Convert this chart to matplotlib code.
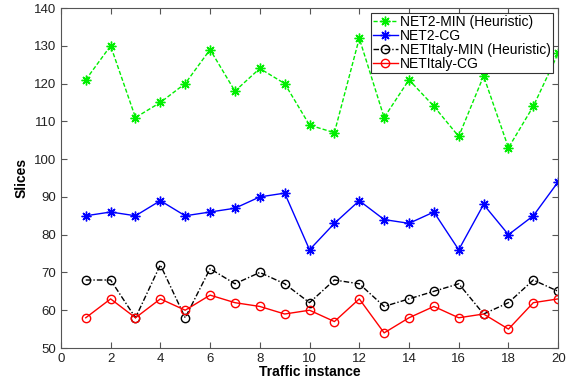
"""Slices per traffic instance for NET2 and NETItaly."""

import matplotlib
matplotlib.use("Agg")
import matplotlib.pyplot as plt

plt.rcParams["font.family"] = ["Liberation Sans", "DejaVu Sans"]

instances = list(range(1, 21))
net2_min = [121, 130, 111, 115, 120, 129, 118, 124, 120, 109,
            107, 132, 111, 121, 114, 106, 122, 103, 114, 128]
net2_cg = [85, 86, 85, 89, 85, 86, 87, 90, 91, 76,
           83, 89, 84, 83, 86, 76, 88, 80, 85, 94]
italy_min = [68, 68, 58, 72, 58, 71, 67, 70, 67, 62,
             68, 67, 61, 63, 65, 67, 59, 62, 68, 65]
italy_cg = [58, 63, 58, 63, 60, 64, 62, 61, 59, 60,
            57, 63, 54, 58, 61, 58, 59, 55, 62, 63]

ASTERISK = (8, 2, 0)

fig = plt.figure(figsize=(5.69, 3.82), dpi=100)
ax = fig.add_axes([0.107, 0.089, 0.874, 0.89])

ax.plot(instances, net2_min, color="#00ee00", linestyle=(0, (3, 1.5)),
        marker=ASTERISK, markersize=7, markeredgewidth=1.0, linewidth=1,
        label="NET2-MIN (Heuristic)")
ax.plot(instances, net2_cg, color="#0000ff", linestyle="-", marker=ASTERISK,
        markersize=7, markeredgewidth=1.0, linewidth=1, label="NET2-CG")
ax.plot(instances, italy_min, color="black", linestyle=(0, (4, 1.5, 1, 1.5)),
        marker="o", markersize=6, markerfacecolor="none", linewidth=1,
        label="NETItaly-MIN (Heuristic)")
ax.plot(instances, italy_cg, color="#ff0000", linestyle="-", marker="o",
        markersize=6, markerfacecolor="none", linewidth=1, label="NETItaly-CG")

ax.set_xlim(0, 20)
ax.set_ylim(50, 140)
ax.set_xticks(range(0, 21, 2))
ax.set_yticks(range(50, 141, 10))
ax.tick_params(direction="in", top=True, right=True, labelsize=9.5,
               length=4, color="#555555", labelcolor="#222222")
for s in ax.spines.values():
    s.set_color("#555555")
ax.set_xlabel("Traffic instance", fontweight="bold", fontsize=10, labelpad=0)
ax.set_ylabel("Slices", fontweight="bold", fontsize=10, labelpad=4)

leg = ax.legend(loc="upper right", fontsize=10, handlelength=1.8,
                borderpad=0.15, labelspacing=0.0, handletextpad=0.2,
                borderaxespad=0.35, fancybox=False, framealpha=1)
leg.get_frame().set_edgecolor("#333333")
leg.get_frame().set_linewidth(0.8)

fig.savefig("out.png", dpi=100)
